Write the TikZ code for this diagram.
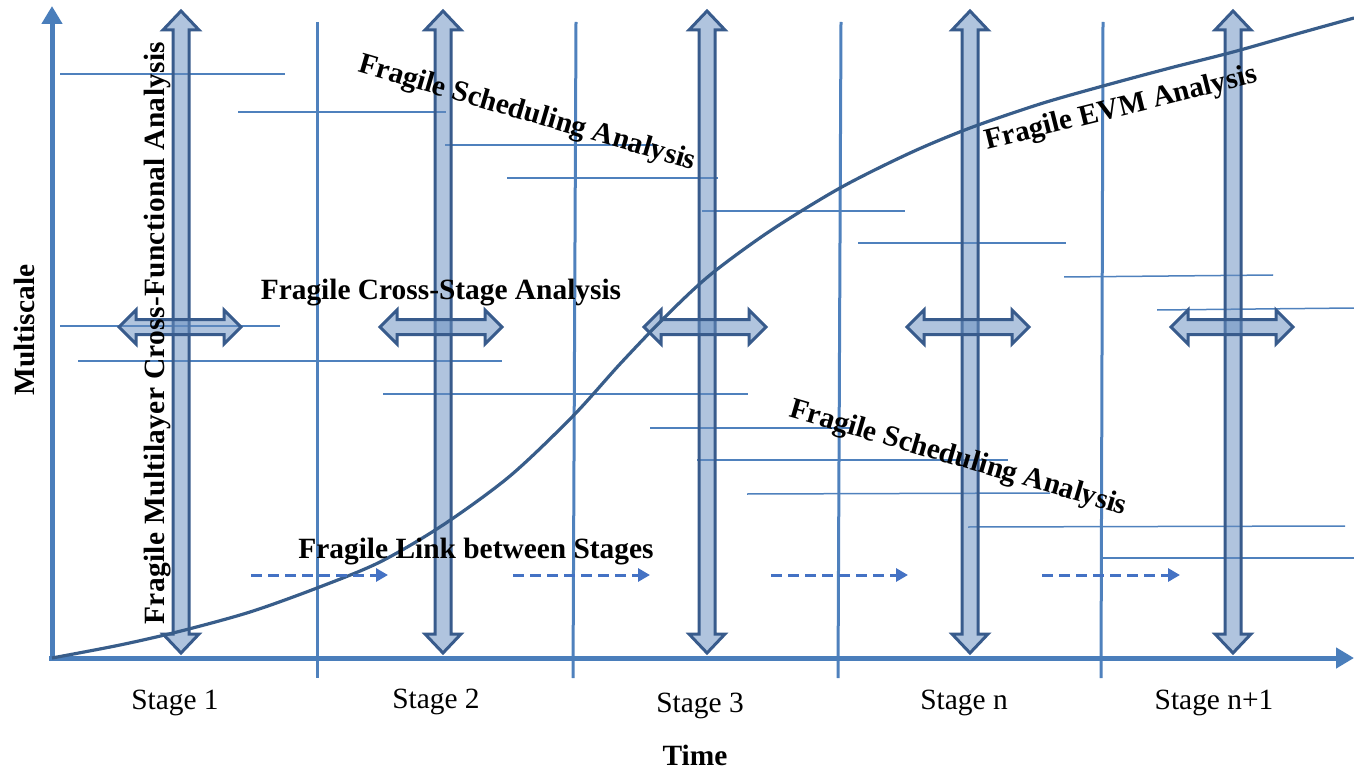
\documentclass[tikz,border=0pt]{standalone}
\usepackage{fontspec}
\setmainfont{Liberation Serif}
\usetikzlibrary{arrows.meta}
\definecolor{axisblue}{RGB}{74,126,187}
\definecolor{lineblue}{RGB}{79,129,189}
\definecolor{curveblue}{RGB}{56,93,138}
\definecolor{blockedge}{RGB}{56,91,140}
\definecolor{blockfill}{RGB}{103,142,191}
\definecolor{dashblue}{RGB}{68,114,196}
\begin{document}
\begin{tikzpicture}[x=0.5pt,y=-0.5pt,
  hline/.style={lineblue, line width=0.75pt},
  sepline/.style={lineblue, line width=1.5pt},
  axisline/.style={axisblue, line width=2.5pt, -{Triangle[length=9pt,width=10pt]}},
  sline/.style={curveblue, line width=1.6pt},
  blockarrow/.style={draw=blockedge, line width=1.5pt, fill=blockfill, fill opacity=0.52, line join=miter},
  dasharrow/.style={dashblue, line width=1.5pt, dash pattern=on 5.5pt off 3pt, -{Triangle[length=6pt,width=6.5pt]}},
  lbl/.style={font=\fontsize{14.7}{17}\selectfont\bfseries, inner sep=0pt},
  stagelbl/.style={font=\fontsize{14.7}{17}\selectfont, inner sep=0pt}
]
\useasboundingbox (0,0) rectangle (1354,770);

% staircase of thin lines
\foreach \xa/\ya/\xb/\yb in {60/74/285/74, 238/112/446/112, 445/145/657/145, 507/178/718/178,
  702/211/905/211, 858/243/1066/243, 1064/277/1273/275, 1157/310/1354/308,
  60/326/280/326, 78/361/502/361, 383/394/748/394, 650/428/850/428,
  697/460/1008/460, 747/494/1050/493, 968/527/1345/526, 1103/558/1354/558}
  \draw[hline] (\xa,\ya) -- (\xb,\yb);

% stage separators
\coordinate (s1t) at (317,22);  \coordinate (s1b) at (317,678);
\coordinate (s2t) at (576,22);  \coordinate (s2b) at (573,678);
\coordinate (s3t) at (841,22);  \coordinate (s3b) at (838,678);
\coordinate (s4t) at (1103,22); \coordinate (s4b) at (1101,678);
\draw[sepline] (s1t) -- (s1b);
\draw[sepline] (s2t) -- (s2b);
\draw[sepline] (s3t) -- (s3b);
\draw[sepline] (s4t) -- (s4b);

% vertical double block arrows
\foreach \c in {181,443,707,970,1233} {
  \draw[blockarrow] (\c,11) -- (\c+18,30) -- (\c+8,30) -- (\c+8,634) -- (\c+18,634)
    -- (\c,653) -- (\c-18,634) -- (\c-8,634) -- (\c-8,30) -- (\c-18,30) -- cycle;
}
% horizontal double block arrows
\foreach \c in {180,441,705,968,1232} {
  \draw[blockarrow] (\c-61,327) -- (\c-44,310) -- (\c-44,319.5) -- (\c+44,319.5) -- (\c+44,310)
    -- (\c+61,327) -- (\c+44,344) -- (\c+44,334.5) -- (\c-44,334.5) -- (\c-44,344) -- cycle;
}

% axes
\coordinate (origin) at (52,658);
\coordinate (ytip) at (52,6);
\coordinate (xtip) at (1354,658);
\draw[axisline] (52,661) -- (ytip);
\draw[axisline] (49,658) -- (xtip);

% S curve
\draw[sline] plot[smooth, tension=0.5] coordinates {(52,658) (120,645) (181,631) (250,612)
  (317,588) (380,562) (443,525) (510,476) (573,416) (620,364) (665,317) (710,275)
  (770,231) (840,188) (910,153) (970,128) (1040,104) (1103,86) (1170,68) (1233,52)
  (1300,33) (1354,18)};

% dashed links between stages
\foreach \xa/\xb in {251/388, 513/650, 771/908, 1042/1180}
  \draw[dasharrow] (\xa,575) -- (\xb,575);

% labels
\node[lbl, rotate=90] (multilayer) at (158,333) {\addfontfeature{LetterSpace=1.2}Fragile Multilayer Cross-Functional Analysis};
\node[lbl, rotate=-16.3] (sched1) at (527,114) {Fragile Scheduling Analysis};
\node[lbl, rotate=14] (evm) at (1121,109) {Fragile EVM Analysis};
\node[lbl] (crossstage) at (441,293) {Fragile Cross-Stage Analysis};
\node[lbl, rotate=-16.3] (sched2) at (958,459) {Fragile Scheduling Analysis};
\node[lbl] (link) at (476,552) {Fragile Link between Stages};
\node[lbl, rotate=90] (multiscale) at (24,330) {Multiscale};
\node[lbl] (time) at (695,755) {Time};

\node[stagelbl] (st1) at (175,703) {Stage 1};
\node[stagelbl] (st2) at (436,702) {Stage 2};
\node[stagelbl] (st3) at (700,706) {Stage 3};
\node[stagelbl] (stn) at (964,703) {Stage n};
\node[stagelbl] (stn1) at (1214,703) {Stage n+1};
\end{tikzpicture}
\end{document}
